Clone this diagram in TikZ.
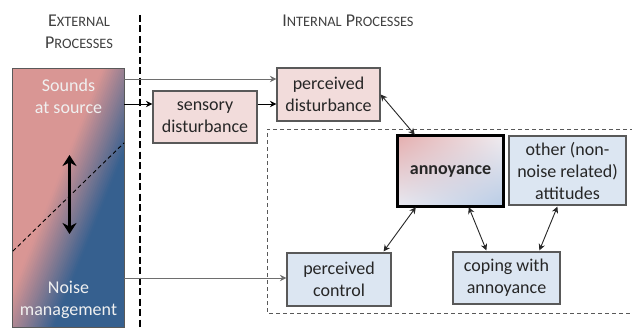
\documentclass[tikz,border=0pt]{standalone}
\usepackage{fontspec}
\setmainfont{Carlito}
\usetikzlibrary{arrows.meta,calc,shadings}
\definecolor{pinkfill}{HTML}{F2DCDB}
\definecolor{bluefill}{HTML}{DCE6F2}
\definecolor{boxline}{HTML}{595959}
\definecolor{srcpink}{HTML}{D99694}
\definecolor{srcblue}{HTML}{36608F}
\definecolor{txt}{HTML}{262626}
\definecolor{ttl}{HTML}{404040}
\definecolor{lightline}{HTML}{6E6E6E}
\definecolor{annul}{HTML}{E5AEAE}
\definecolor{annur}{HTML}{F0ECF0}
\definecolor{annll}{HTML}{E8EAF2}
\definecolor{annlr}{HTML}{B8CCE6}
\newcommand\mysc[2]{{\fontsize{18}{22}\selectfont #1}{\fontsize{14.4}{22}\selectfont #2}}
\begin{document}
\begin{tikzpicture}[x=1pt,y=-1pt,
  every node/.style={font=\fontsize{18}{22}\selectfont, text=txt, inner sep=0pt, align=center},
  pbox/.style={draw=boxline, line width=1.2pt, fill=pinkfill},
  bbox/.style={draw=boxline, line width=1.2pt, fill=bluefill},
  conn/.style={-{Stealth[length=6.5pt,width=6.5pt]}, line width=0.9pt},
  biconn/.style={{Stealth[length=6.5pt,width=6.5pt]}-{Stealth[length=6.5pt,width=6.5pt]}, line width=0.9pt, draw=black!85},
  title/.style={text=ttl}]
\useasboundingbox (0,0) rectangle (632,329);
% titles
\node[title] (ext) at (79,31.5) {\mysc{E}{XTERNAL}\\\mysc{P}{ROCESSES}};
\node[title] (int) at (348,20.5) {\mysc{I}{NTERNAL} \mysc{P}{ROCESSES}};
% separator
\draw[line width=2.5pt, dash pattern=on 7pt off 3.5pt] (140,15) -- (140,329);
% dashed frame
\draw[draw=boxline, line width=0.9pt, dash pattern=on 4pt off 3pt] (634,129) -- (267,129) -- (267,313) -- (634,313);
% source box
\node[minimum width=111pt, minimum height=258pt] (src) at (68.5,198) {};
\begin{scope}
  \clip (src.north west) rectangle (src.south east);
  \fill[srcpink] (src.north west) rectangle (src.south east);
  \foreach \t in {-27,-25,...,27} {
    \pgfmathsetmacro\p{max(0,min(100,100*(\t+26)/52))}
    \pgfmathsetmacro\ax{77+0.927*\t-74.6}
    \pgfmathsetmacro\ay{198+0.373*\t+185.4}
    \pgfmathsetmacro\bx{77+0.927*\t+74.6}
    \pgfmathsetmacro\by{198+0.373*\t-185.4}
    \fill[srcblue!\p!srcpink] (\ax,\ay) -- (\bx,\by) -- (337,87.2) -- (187.8,458) -- cycle;
  }
\end{scope}
\draw[draw=boxline, line width=1.2pt] (src.north west) rectangle (src.south east);
\draw[line width=0.9pt, dash pattern=on 4pt off 3pt] ($(src.south west)+(0,-76)$) -- ($(src.north east)+(0,74)$);
\draw[line width=3pt, {Stealth[length=11pt,width=14pt]}-{Stealth[length=11pt,width=14pt]}] ($(src.center)+(1,-43)$) -- ($(src.center)+(1,36)$);
\node[text=white!94!black] (sounds) at (68.5,96) {Sounds\\at source};
\node[text=white!94!black] (noise) at (68.5,300) {Noise\\management};
% boxes
\node[pbox, minimum width=104pt, minimum height=52pt] (sens) at (205,117) {sensory\\disturbance};
\node[pbox, minimum width=103pt, minimum height=53pt] (pdist) at (328.5,94.5) {perceived\\disturbance};
\node[minimum width=105pt, minimum height=70pt] (ann) at (450.5,171) {};
\shade[upper left=annul, upper right=annur, lower left=annll, lower right=annlr] (ann.north west) rectangle (ann.south east);
\draw[line width=2.8pt] (ann.north west) rectangle (ann.south east);
\node[font=\fontsize{18}{22}\selectfont\bfseries] (anntext) at (ann.center) {annoyance};
\node[bbox, minimum width=117pt, minimum height=69pt] (other) at (567.5,170.5) {other (non-\\noise related)\\attitudes};
\node[bbox, minimum width=107pt, minimum height=52pt] (coping) at (506.5,278) {coping with\\annoyance};
\node[bbox, minimum width=104pt, minimum height=53pt] (pctrl) at (339,279.5) {perceived\\control};
% connectors
\draw[conn, draw=lightline] (src.east |- 0,79) -- (pdist.west |- 0,79);
\draw[conn] (src.east |- 0,104) -- (sens.west |- 0,104);
\draw[conn] (sens.east |- 0,104) -- (pdist.west |- 0,104);
\draw[conn, draw=lightline] (src.east |- 0,278) -- (pctrl.west |- 0,278);
\draw[biconn] (pdist.east) -- ($(ann.north west)+(17,-1)$);
\draw[biconn] ($(ann.south west)+(18,1)$) -- ($(pctrl.north east)+(-8,-1)$);
\draw[biconn] ($(ann.south west)+(71,1)$) -- ($(coping.north west)+(34,-1)$);
\draw[biconn] ($(other.south west)+(49,1)$) -- ($(coping.north west)+(87,-1)$);
\end{tikzpicture}
\end{document}
